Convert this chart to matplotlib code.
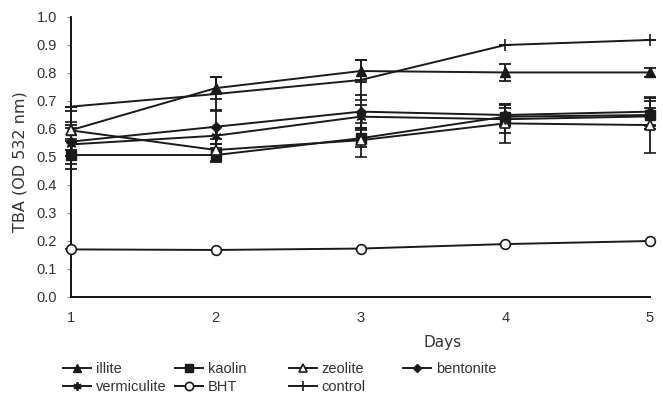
import matplotlib
matplotlib.use("Agg")
import matplotlib.pyplot as plt

days = [1, 2, 3, 4, 5]
illite = [0.596, 0.746, 0.807, 0.802, 0.802]
illite_err = [0.07, 0.04, 0.04, 0.03, 0.015]
kaolin = [0.507, 0.507, 0.567, 0.644, 0.650]
kaolin_err = [0.05, 0.025, 0.03, 0.03, 0.05]
zeolite = [0.595, 0.525, 0.560, 0.620, 0.614]
zeolite_err = [0.03, 0.04, 0.06, 0.07, 0.10]
bentonite = [0.555, 0.608, 0.662, 0.650, 0.662]
bentonite_err = [0.05, 0.06, 0.06, 0.04, 0.05]
vermiculite = [0.545, 0.576, 0.644, 0.635, 0.645]
vermiculite_err = [0.07, 0.03, 0.04, 0.05, 0.03]
bht = [0.170, 0.168, 0.173, 0.189, 0.200]
bht_err = [0.0, 0.0, 0.0, 0.0, 0.0]
control = [0.680, 0.725, 0.775, 0.900, 0.918]
control_err = [0.0, 0.06, 0.07, 0.0, 0.0]

yticks = [0.0, 0.1, 0.2, 0.3, 0.4, 0.5, 0.6, 0.7, 0.8, 0.9, 1.0]

plt.rcParams['font.family'] = ['Liberation Sans', 'DejaVu Sans']

fig = plt.figure(figsize=(6.63, 3.98), dpi=100)
ax = fig.add_axes([71/663, 1-297/398, (650-71)/663, (297-17)/398])

col = '#1a1a1a'
series = [
    ('illite', illite, illite_err, dict(marker='^', ms=7, mfc=col, mec=col)),
    ('kaolin', kaolin, kaolin_err, dict(marker='s', ms=6.5, mfc=col, mec=col)),
    ('zeolite', zeolite, zeolite_err, dict(marker='^', ms=7, mfc='white', mec=col, mew=1.2)),
    ('bentonite', bentonite, bentonite_err, dict(marker='D', ms=5, mfc=col, mec=col)),
    ('vermiculite', vermiculite, vermiculite_err, dict(marker=(6, 2, 0), ms=7, mfc=col, mec=col, mew=1.3)),
    ('BHT', bht, bht_err, dict(marker='o', ms=7, mfc='white', mec=col, mew=1.2)),
    ('control', control, control_err, dict(marker='+', ms=8, mfc=col, mec=col, mew=1.2)),
]

handles = {}
for name, vals, err, mk in series:
    ax.errorbar(days, vals, yerr=err, color=col, lw=1.4, capsize=4, capthick=1.3,
                elinewidth=1.3, clip_on=False, zorder=3, **mk)
    lmk = dict(mk)
    lmk['ms'] = mk['ms'] * 0.85
    h, = ax.plot([], [], color=col, lw=1.4, label=name, **lmk)
    handles[name] = h

ax.set_xlim(1, 5)
ax.set_ylim(0, 1.0)
ax.set_yticks(yticks)
ax.set_yticklabels([f"{v:.1f}" for v in yticks])
ax.set_xticks(days)
ax.set_xticklabels([str(d) for d in days])
for s in ['top', 'right']:
    ax.spines[s].set_visible(False)
for s in ['left', 'bottom']:
    ax.spines[s].set_color('black')
    ax.spines[s].set_linewidth(1.3)
ax.tick_params(axis='y', direction='out', length=3, color='#888888', labelsize=10.5,
               labelcolor='#333333', pad=7)
ax.tick_params(axis='x', length=0, labelsize=10.5, labelcolor='#333333', pad=10)

fig.text(443/663, 1-342/398, 'Days', ha='center', va='center', fontsize=11,
         color='#333333', family='DejaVu Sans')
fig.text(20/663, 1-162/398, 'TBA (OD 532 nm)', ha='center', va='center', rotation=90,
         fontsize=11.5, color='#333333', family='DejaVu Sans')

columns = [['illite', 'vermiculite'], ['kaolin', 'BHT'], ['zeolite', 'control'], ['bentonite']]
xs = [63, 175, 289, 403]
for names, x in zip(columns, xs):
    leg = fig.legend([handles[n] for n in names], names, loc='upper left',
                     bbox_to_anchor=(x/663, 1-362/398), frameon=False, fontsize=10.5,
                     handlelength=1.95, handletextpad=0.3, borderpad=0, borderaxespad=0,
                     labelspacing=0.3, labelcolor='#333333')

fig.savefig('out.png', dpi=100)
